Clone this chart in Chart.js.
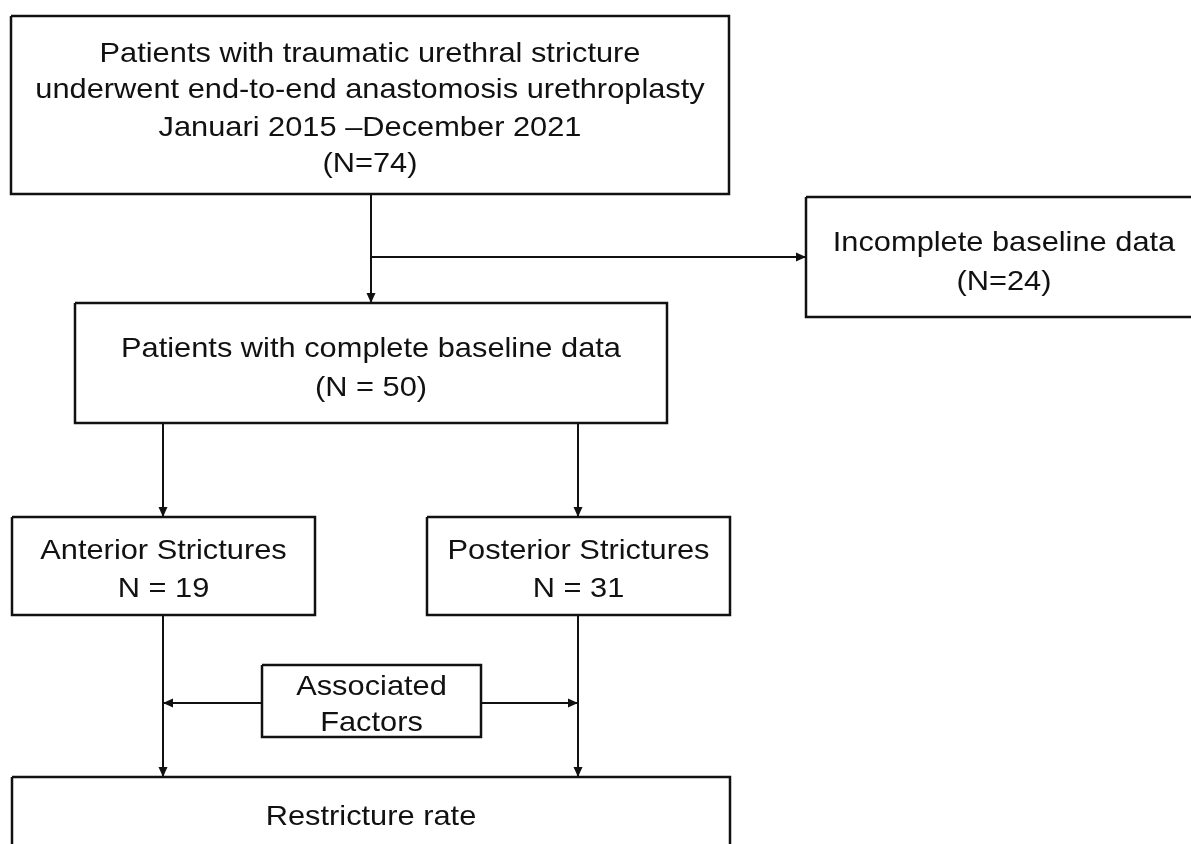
<!DOCTYPE html>
<html>
<head>
<meta charset="utf-8">
<script src="https://cdn.jsdelivr.net/npm/chart.js@4"></script>
<style>
  html, body { margin: 0; padding: 0; background: #fff; }
  #wrap { width: 1191px; height: 844px; position: relative; }
</style>
</head>
<body>
<div id="wrap"><canvas id="flow"></canvas></div>
<script>
// --- TEXT IN EACH BOX ---
const boxLabels = [
  ["Patients with traumatic urethral stricture", "underwent end-to-end anastomosis urethroplasty", "Januari 2015 \u2013December 2021", "(N=74)"],
  ["Incomplete baseline data", "(N=24)"],
  ["Patients with complete baseline data", "(N = 50)"],
  ["Anterior Strictures", "N = 19"],
  ["Posterior Strictures", "N = 31"],
  ["Associated", "Factors"],
  ["Restricture rate"]
];

// --- LAYOUT (page units, y grows downward) ---
const boxLeft   = [11, 806, 75, 12, 427, 262, 12];
const boxRight  = [729, 1202, 667, 315, 730, 481, 730];
const boxTop    = [16, 197, 303, 517, 517, 665, 777];
const boxBottom = [194, 317, 423, 615, 615, 737, 860];
const lineBase  = [[62, 98, 136, 172], [251, 290], [357, 396], [559, 597], [559, 597], [695, 731], [825]];

// connectors: [x1, y1, x2, y2]  (arrowhead at the second point)
const links = [
  [371, 194, 371, 303],
  [371, 257, 806, 257],
  [163, 423, 163, 517],
  [578, 423, 578, 517],
  [163, 615, 163, 777],
  [578, 615, 578, 777],
  [262, 703, 163, 703],
  [481, 703, 578, 703]
];

const ink = "#111";

// one closed outline per box, one line per connector
const datasets = [];
boxLabels.forEach((_, i) => {
  const l = boxLeft[i], r = boxRight[i], t = boxTop[i], b = boxBottom[i];
  datasets.push({
    data: [{x: l, y: t}, {x: r, y: t}, {x: r, y: b}, {x: l, y: b}, {x: l, y: t}],
    showLine: true, borderColor: ink, borderWidth: 2.5, pointRadius: 0, fill: false,
    tension: 0, borderJoinStyle: "miter"
  });
});
links.forEach(k => {
  datasets.push({
    data: [{x: k[0], y: k[1]}, {x: k[2], y: k[3]}],
    showLine: true, borderColor: ink, borderWidth: 2, pointRadius: 0, fill: false
  });
});

// arrowheads + box text, placed through the chart's scales
const flowPlugin = {
  id: "flowText",
  afterDatasetsDraw(chart) {
    const ctx = chart.ctx;
    const xs = chart.scales.x, ys = chart.scales.y;
    ctx.save();
    ctx.fillStyle = ink;

    links.forEach(k => {
      const x1 = xs.getPixelForValue(k[0]), y1 = ys.getPixelForValue(k[1]);
      const x2 = xs.getPixelForValue(k[2]), y2 = ys.getPixelForValue(k[3]);
      const ang = Math.atan2(y2 - y1, x2 - x1);
      const len = 10, half = 4.5;
      ctx.beginPath();
      ctx.moveTo(x2, y2);
      ctx.lineTo(x2 - len * Math.cos(ang) + half * Math.sin(ang), y2 - len * Math.sin(ang) - half * Math.cos(ang));
      ctx.lineTo(x2 - len * Math.cos(ang) - half * Math.sin(ang), y2 - len * Math.sin(ang) + half * Math.cos(ang));
      ctx.closePath();
      ctx.fill();
    });

    // the source lettering is a touch wider than Liberation Sans, so stretch it
    ctx.font = "28px 'Liberation Sans', Arial, sans-serif";
    ctx.textAlign = "center";
    ctx.textBaseline = "alphabetic";
    boxLabels.forEach((lines, i) => {
      const cx = xs.getPixelForValue((boxLeft[i] + boxRight[i]) / 2);
      lines.forEach((txt, j) => {
        ctx.save();
        ctx.translate(cx, ys.getPixelForValue(lineBase[i][j]));
        ctx.scale(1.1, 1);
        ctx.fillText(txt, 0, 0);
        ctx.restore();
      });
    });
    ctx.restore();
  }
};

new Chart(document.getElementById("flow"), {
  type: "scatter",
  data: { datasets },
  options: {
    responsive: true,
    maintainAspectRatio: false,
    animation: false,
    events: [],
    layout: { padding: 0 },
    plugins: { legend: { display: false }, tooltip: { enabled: false } },
    scales: {
      x: { type: "linear", min: 0, max: 1191, display: false },
      y: { type: "linear", min: 0, max: 844, reverse: true, display: false }
    }
  },
  plugins: [flowPlugin]
});
</script>
</body>
</html>
